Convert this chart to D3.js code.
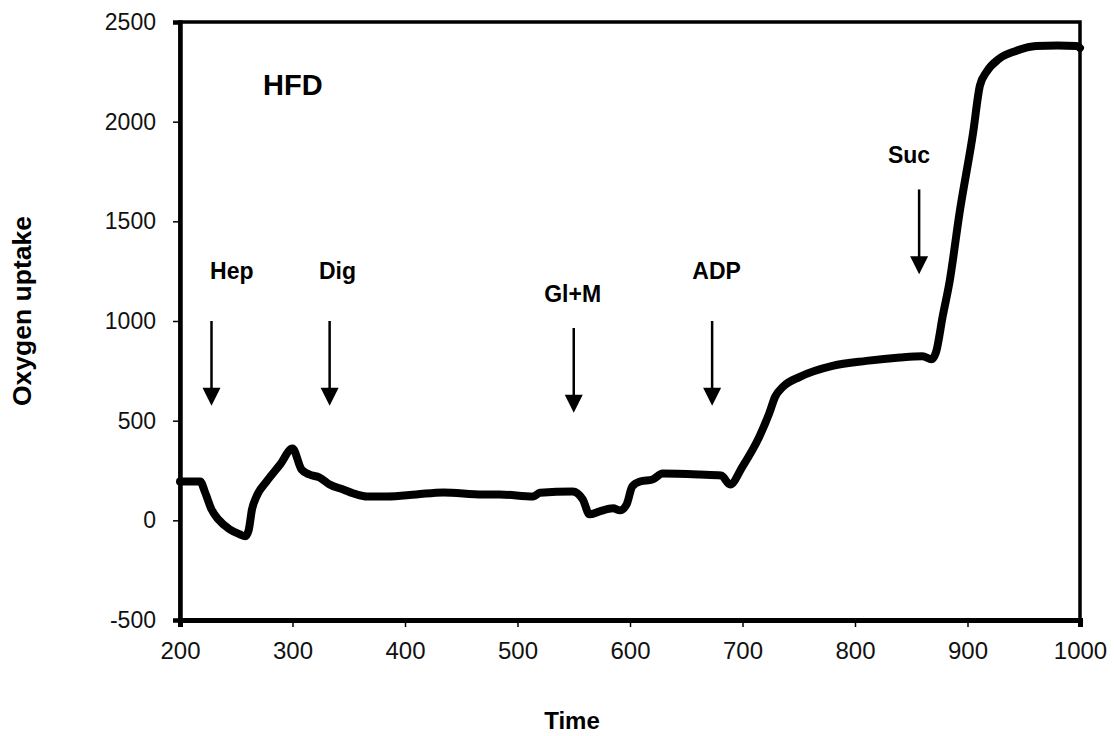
<!DOCTYPE html>
<html>
<head>
<meta charset="utf-8">
<script src="https://cdn.jsdelivr.net/npm/d3@7"></script>
<style>
  html, body { margin: 0; padding: 0; background: #fff; }
  svg { display: block; font-family: "Liberation Sans", Arial, sans-serif; }
</style>
</head>
<body>
<svg id="chart" width="1114" height="736"></svg>
<script>
// ---- data ----
const times = [200, 210, 218, 222, 228, 234, 244, 253, 258, 261, 264, 268, 277, 289, 300,
  308, 315, 324, 333, 345, 357, 366, 384, 410, 434, 469, 484, 514, 520, 549,
  558, 564, 573, 585, 591, 597, 602, 609, 620, 629, 662, 681, 689, 700, 715,
  724, 729, 736, 751, 780, 810, 840, 860, 868, 872, 878, 884, 893, 905, 911,
  917, 928, 943, 961, 980, 997, 1000];
const uptake = [195, 195, 195, 145, 55, 5, -45, -70, -80, -50, 55, 120, 195, 280, 360,
  255, 230, 215, 180, 155, 130, 120, 120, 130, 140, 130, 130, 120, 138, 145,
  105, 30, 45, 60, 50, 80, 170, 195, 205, 235, 230, 225, 180, 270, 420,
  540, 620, 670, 720, 775, 800, 817, 823, 808, 843, 1025, 1195, 1545, 1945, 2180,
  2250, 2315, 2355, 2380, 2382, 2380, 2370];

const xTicks = [200, 300, 400, 500, 600, 700, 800, 900, 1000];
const yTicks = [-500, 0, 500, 1000, 1500, 2000, 2500];

const markLabels = ["Hep", "Dig", "Gl+M", "ADP", "Suc"];
const markTimes  = [228, 333, 550, 673, 857];
const markLabelTimes = [246, 340, 549, 677, 848];
const markTop    = [1000, 1000, 965, 1000, 1660];
const markTip    = [575, 575, 540, 575, 1235];
const markLabelY = [1210, 1210, 1095, 1210, 1795];

const panelLabel = "HFD";
const xTitle = "Time";
const yTitle = "Oxygen uptake";

// ---- drawing ----
const svg = d3.select("#chart");
const x = d3.scaleLinear().domain([200, 1000]).range([180, 1080]);
const y = d3.scaleLinear().domain([-500, 2500]).range([620, 22]);

// frame (top/right)
svg.append("rect")
  .attr("x", x(200)).attr("y", y(2500))
  .attr("width", x(1000) - x(200)).attr("height", y(-500) - y(2500))
  .attr("fill", "none").attr("stroke", "#000").attr("stroke-width", 3.5);

// axes
const fmt = d => String(d);
const yAxis = svg.append("g").attr("transform", `translate(${x(200)},0)`)
  .call(d3.axisLeft(y).tickValues(yTicks).tickSize(7).tickPadding(17).tickFormat(fmt));
yAxis.select(".domain").attr("stroke-width", 4.5);
yAxis.selectAll(".tick line").attr("stroke-width", 1.5);
yAxis.selectAll("text").attr("font-size", 23).attr("fill", "#111")
  .attr("font-family", "Liberation Sans, Arial, sans-serif");

const xAxis = svg.append("g").attr("transform", `translate(0,${y(-500)})`)
  .call(d3.axisBottom(x).tickValues(xTicks).tickSize(7).tickPadding(15).tickFormat(fmt));
xAxis.select(".domain").attr("stroke-width", 5);
xAxis.selectAll(".tick line").attr("stroke-width", 1.5);
xAxis.selectAll("text").attr("font-size", 24).attr("fill", "#111")
  .attr("font-family", "Liberation Sans, Arial, sans-serif");

// data line
const pts = times.map((t, i) => [t, uptake[i]]);
svg.append("path")
  .datum(pts)
  .attr("d", d3.line().curve(d3.curveMonotoneX).x(d => x(d[0])).y(d => y(d[1])))
  .attr("fill", "none").attr("stroke", "#000")
  .attr("stroke-width", 8).attr("stroke-linejoin", "round").attr("stroke-linecap", "round");

// annotations
const ann = svg.append("g");
markLabels.forEach((lab, i) => {
  const ax = x(markTimes[i]);
  const yt = y(markTop[i]);
  const yp = y(markTip[i]);
  ann.append("line").attr("x1", ax).attr("x2", ax)
    .attr("y1", yt).attr("y2", yp - 16)
    .attr("stroke", "#000").attr("stroke-width", 2.5);
  ann.append("path")
    .attr("d", `M${ax - 9},${yp - 18} L${ax + 9},${yp - 18} L${ax},${yp} Z`)
    .attr("fill", "#000");
  ann.append("text").attr("x", x(markLabelTimes[i])).attr("y", y(markLabelY[i]))
    .attr("text-anchor", "middle").attr("font-weight", "bold").attr("font-size", 23)
    .text(lab);
});

svg.append("text").attr("x", 263).attr("y", 95)
  .attr("font-weight", "bold").attr("font-size", 29).text(panelLabel);

svg.append("text").attr("x", 572).attr("y", 729)
  .attr("text-anchor", "middle").attr("font-weight", "bold").attr("font-size", 24)
  .text(xTitle);

svg.append("text").attr("transform", "translate(31,311) rotate(-90)")
  .attr("text-anchor", "middle").attr("font-weight", "bold").attr("font-size", 25)
  .attr("textLength", 190).attr("lengthAdjust", "spacingAndGlyphs")
  .text(yTitle);
</script>
</body>
</html>
